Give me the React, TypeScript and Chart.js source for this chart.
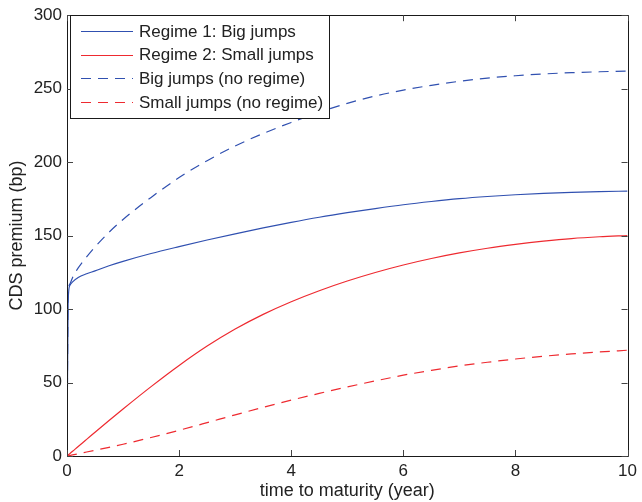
import React, { useEffect, useRef } from 'react';
import { Chart, registerables } from 'chart.js';

Chart.register(...registerables);

// Maturities (years) at which the CDS premia were evaluated
const MATURITY = [
  0, 0.02, 0.05, 0.1, 0.2, 0.35, 0.5, 0.75, 1, 1.5, 2, 2.5, 3, 3.5, 4, 4.5, 5,
  5.5, 6, 6.5, 7, 7.5, 8, 8.5, 9, 9.5, 10,
];

// CDS premium (bp) per model
const REGIME1_BIG = [
  0, 105, 116, 118.5, 121.5, 124, 126, 129.5, 132.5, 137.8, 142.5, 147, 151.2, 155.2, 159, 162.5, 165.6,
  168.4, 171, 173.2, 175.1, 176.6, 177.8, 178.7, 179.4, 179.9, 180.3,
];
const REGIME2_SMALL = [
  0, 0.65, 1.6, 3.2, 6.5, 11.3, 16.2, 24.2, 32, 47.2, 61.6, 74.8, 86.4, 96.4, 105, 112.5, 119.1,
  124.9, 130, 134.4, 138.2, 141.4, 144, 146.2, 148, 149.2, 150,
];
const BIG_NO_REGIME = [
  0, 108, 117, 121.5, 128, 135.5, 142.3, 152.3, 161, 176, 189.5, 201, 211, 219.5, 227, 234, 240,
  245, 249, 252.3, 255, 257.2, 258.8, 260, 260.9, 261.5, 262,
];
const SMALL_NO_REGIME = [
  0, 0.15, 0.4, 0.75, 1.5, 2.7, 3.9, 5.9, 8, 12.6, 17.5, 22.7, 28, 33.1, 38, 42.6, 47,
  51.1, 55, 58.3, 61.3, 63.8, 66, 67.9, 69.5, 70.8, 72,
];

const SERIES_LABELS = [
  'Regime 1: Big jumps',
  'Regime 2: Small jumps',
  'Big jumps (no regime)',
  'Small jumps (no regime)',
];

const X_TICKS = [0, 2, 4, 6, 8, 10];
const Y_TICKS = [0, 50, 100, 150, 200, 250, 300];

const BLUE = '#3050b0';
const RED = '#ee2a30';
const DASH = [10, 7];
const SERIES_COLORS = [BLUE, RED, BLUE, RED];
const SERIES_DASHES = [[], [], DASH, DASH];
const FONT = '"Liberation Sans", Arial, Helvetica, sans-serif';
const TEXT = '#222222';

const toPoints = (ys: number[]) => MATURITY.map((x, i) => ({ x, y: ys[i] }));

// Box frame with inward ticks on all four sides
const framePlugin = {
  id: 'frame',
  afterDatasetsDraw(chart: any) {
    const { ctx, chartArea: a, scales } = chart;
    ctx.save();
    ctx.strokeStyle = '#1a1a1a';
    ctx.lineWidth = 1;
    ctx.beginPath();
    ctx.rect(Math.round(a.left) + 0.5, Math.round(a.top) + 0.5, Math.round(a.right - a.left), Math.round(a.bottom - a.top));
    ctx.stroke();
    const len = 6;
    ctx.strokeStyle = '#444';
    ctx.beginPath();
    X_TICKS.forEach((v) => {
      const px = Math.round(scales.x.getPixelForValue(v)) + 0.5;
      ctx.moveTo(px, a.bottom);
      ctx.lineTo(px, a.bottom - len);
      ctx.moveTo(px, a.top);
      ctx.lineTo(px, a.top + len);
    });
    Y_TICKS.forEach((v) => {
      const py = Math.round(scales.y.getPixelForValue(v)) + 0.5;
      ctx.moveTo(a.left, py);
      ctx.lineTo(a.left + len, py);
      ctx.moveTo(a.right, py);
      ctx.lineTo(a.right - len, py);
    });
    ctx.stroke();
    ctx.restore();
  },
};

// Boxed legend in the upper-left corner of the plot
const boxLegendPlugin = {
  id: 'boxLegend',
  afterDraw(chart: any) {
    const { ctx, chartArea: a } = chart;
    const x0 = a.left + 3;
    const y0 = a.top;
    const w = 259;
    const h = 103;
    ctx.save();
    ctx.fillStyle = '#ffffff';
    ctx.fillRect(x0, y0, w, h);
    ctx.strokeStyle = '#1a1a1a';
    ctx.lineWidth = 1;
    ctx.strokeRect(Math.round(x0) + 0.5, Math.round(y0) + 0.5, w, h);
    ctx.font = `17px ${FONT}`;
    ctx.textBaseline = 'middle';
    SERIES_LABELS.forEach((label, i) => {
      const cy = y0 + 16 + i * 23.6;
      ctx.strokeStyle = SERIES_COLORS[i];
      ctx.lineWidth = 1.2;
      ctx.setLineDash(SERIES_DASHES[i]);
      ctx.beginPath();
      ctx.moveTo(x0 + 11, Math.round(cy) + 0.5);
      ctx.lineTo(x0 + 63, Math.round(cy) + 0.5);
      ctx.stroke();
      ctx.setLineDash([]);
      ctx.fillStyle = TEXT;
      ctx.fillText(label, x0 + 69, cy + 1);
    });
    ctx.restore();
  },
};

export default function App() {
  const canvasRef = useRef<HTMLCanvasElement | null>(null);

  useEffect(() => {
    document.body.style.margin = '0';
    const canvas = canvasRef.current;
    if (!canvas) return;
    const values = [REGIME1_BIG, REGIME2_SMALL, BIG_NO_REGIME, SMALL_NO_REGIME];
    const chart = new Chart(canvas, {
      type: 'line',
      data: {
        datasets: values.map((ys, i) => ({
          label: SERIES_LABELS[i],
          data: toPoints(ys),
          borderColor: SERIES_COLORS[i],
          borderDash: SERIES_DASHES[i],
          borderWidth: 1.2,
          pointRadius: 0,
          fill: false,
          cubicInterpolationMode: 'monotone' as const,
        })),
      },
      options: {
        animation: false,
        responsive: false,
        devicePixelRatio: 1,
        layout: { padding: { top: 13, right: 13, left: 0, bottom: 0 } },
        plugins: { legend: { display: false }, tooltip: { enabled: false } },
        scales: {
          x: {
            type: 'linear',
            min: 0,
            max: 10,
            afterBuildTicks: (s: any) => { s.ticks = X_TICKS.map((v) => ({ value: v })); },
            afterFit: (s: any) => { s.height = 46; },
            grid: { display: false, drawTicks: false },
            border: { display: false },
            ticks: { padding: 5, color: TEXT, font: { family: FONT, size: 17 }, maxRotation: 0 },
            title: {
              display: true,
              text: 'time to maturity (year)',
              color: TEXT,
              font: { family: FONT, size: 18 },
              padding: { top: 1, bottom: 0 },
            },
          },
          y: {
            type: 'linear',
            min: 0,
            max: 300,
            afterBuildTicks: (s: any) => { s.ticks = Y_TICKS.map((v) => ({ value: v })); },
            afterFit: (s: any) => { s.width = 67; },
            grid: { display: false, drawTicks: false },
            border: { display: false },
            ticks: { padding: 5, color: TEXT, font: { family: FONT, size: 17 } },
            title: {
              display: true,
              text: 'CDS premium (bp)',
              color: TEXT,
              font: { family: FONT, size: 18 },
              padding: { top: 6, bottom: 0 },
            },
          },
        },
      },
      plugins: [framePlugin, boxLegendPlugin],
    });
    return () => chart.destroy();
  }, []);

  return (
    <div style={{ width: 642, height: 502 }}>
      <canvas ref={canvasRef} width={642} height={502} style={{ display: 'block' }} />
    </div>
  );
}
